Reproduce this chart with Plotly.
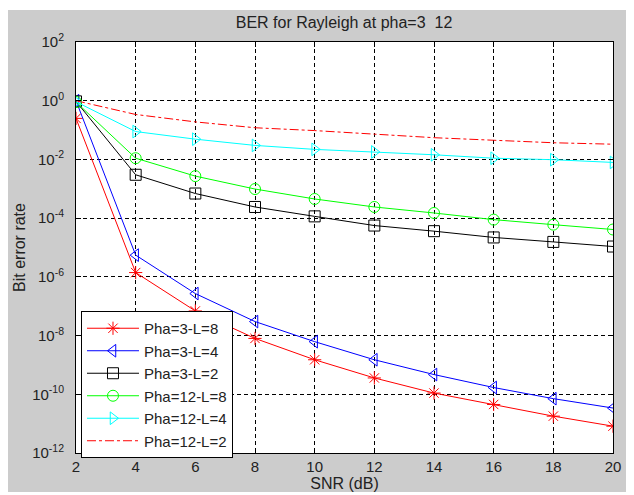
import plotly.graph_objects as go

snr = [2, 4, 6, 8, 10, 12, 14, 16, 18, 20]

pha3_L8 = [0.25, 1.4e-6, 6.9e-8, 8.0e-9, 1.5e-9, 3.6e-10, 1.1e-10, 4.5e-11, 1.8e-11, 8.2e-12]
pha3_L4 = [1.0, 5.5e-6, 2.7e-7, 3.0e-8, 6.2e-9, 1.5e-9, 4.7e-10, 1.7e-10, 7.1e-11, 3.4e-11]
pha3_L2 = [0.95, 3.0e-3, 6.9e-4, 2.4e-4, 1.15e-4, 5.6e-5, 3.6e-5, 2.2e-5, 1.55e-5, 1.08e-5]
pha12_L8 = [0.9, 1.1e-2, 2.7e-3, 9.8e-4, 4.5e-4, 2.4e-4, 1.5e-4, 8.9e-5, 6.0e-5, 4.1e-5]
pha12_L4 = [0.92, 8.9e-2, 4.9e-2, 3.0e-2, 2.2e-2, 1.8e-2, 1.44e-2, 1.1e-2, 9.8e-3, 7.9e-3]
pha12_L2 = [1.0, 0.34, 0.19, 0.12, 9.6e-2, 7.2e-2, 5.5e-2, 4.5e-2, 3.7e-2, 3.3e-2]

names = ["Pha=3-L=8", "Pha=3-L=4", "Pha=3-L=2", "Pha=12-L=8", "Pha=12-L=4", "Pha=12-L=2"]
series = [pha3_L8, pha3_L4, pha3_L2, pha12_L8, pha12_L4, pha12_L2]
colors = ["#ff0000", "#0000ff", "#000000", "#00ff00", "#00ffff", "#ff0000"]
symbols = ["asterisk-open", "triangle-left-open", "square-open", "circle-open", "triangle-right-open", None]
dashes = ["solid", "solid", "solid", "solid", "solid", "dashdot"]

y_exps = list(range(-12, 3, 2))
y_ticktext = ["10<sup>%d</sup>" % e for e in y_exps]
x_ticks = [2, 4, 6, 8, 10, 12, 14, 16, 18, 20]

FONT = "Arial, Liberation Sans, sans-serif"
TXT = "#222222"

# page body has an 8px margin; figure occupies window pixels 8..634 x 8..495
W, H = 626, 487

fig = go.Figure()
for name, ys, c, s, d in zip(names, series, colors, symbols, dashes):
    if s is None:
        fig.add_trace(go.Scatter(x=snr, y=ys, name=name, mode="lines",
                                 line=dict(color=c, width=1, dash=d)))
    else:
        fig.add_trace(go.Scatter(x=snr, y=ys, name=name, mode="lines+markers",
                                 line=dict(color=c, width=1, dash=d),
                                 marker=dict(symbol=s, size=11, color=c,
                                             line=dict(color=c, width=1))))

axis_common = dict(showline=True, linecolor="black", linewidth=1, mirror="allticks",
                   ticks="inside", ticklen=5, tickcolor="black", automargin=False,
                   showgrid=True, gridcolor="black", gridwidth=1, griddash="4px,3px",
                   zeroline=False, tickfont=dict(family=FONT, size=15, color=TXT))

fig.update_xaxes(range=[2, 20], tickvals=x_ticks, ticktext=[str(v) for v in x_ticks],
                 title=dict(text="SNR (dB)", font=dict(family=FONT, size=16, color=TXT), standoff=3),
                 **axis_common)
fig.update_yaxes(type="log", range=[-12, 2], tickvals=[10.0 ** e for e in y_exps], ticktext=y_ticktext,
                 ticklabelstandoff=8,
                 title=dict(text="Bit error rate", font=dict(family=FONT, size=16, color=TXT), standoff=2),
                 **axis_common)

fig.update_layout(
    width=W, height=H,
    margin=dict(l=68, r=21, t=34, b=42),
    paper_bgcolor="#cccccc", plot_bgcolor="white",
    title=dict(text="BER for Rayleigh at pha=3\u00a0 12", x=336 / W, xanchor="center",
               y=1 - 14 / H, yanchor="middle",
               font=dict(family=FONT, size=16, color=TXT)),
    legend=dict(x=0.0093, y=0.3455, xanchor="left", yanchor="top",
                bgcolor="white", bordercolor="black", borderwidth=1,
                itemwidth=52, entrywidth=128, entrywidthmode="pixels",
                font=dict(family=FONT, size=15, color=TXT)),
    showlegend=True,
    shapes=[
        dict(type="rect", xref="paper", yref="paper", x0=-0.2, x1=1.1, y0=(411 + 32) / 411, y1=1.3,
             fillcolor="white", line=dict(width=0), layer="above"),
        dict(type="rect", xref="paper", yref="paper", x0=-0.2, x1=1.1, y0=-0.3, y1=-39 / 411,
             fillcolor="white", line=dict(width=0), layer="above"),
    ],
)

fig.write_html("out.html")
